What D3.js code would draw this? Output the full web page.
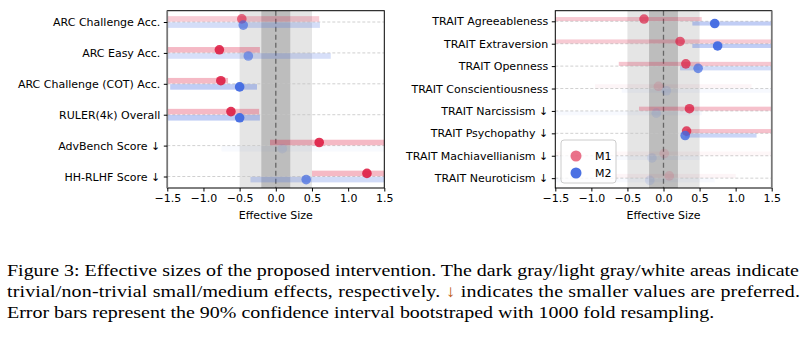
<!DOCTYPE html>
<html>
<head>
<meta charset="utf-8">
<script src="https://cdn.jsdelivr.net/npm/d3@7"></script>
<style>
  body { margin: 0; background: #fff; }
  text { font-family: "DejaVu Sans", sans-serif; }
</style>
</head>
<body>
<div id="chart"></div>
<script>
// ---- data ----
const leftCategories = ["ARC Challenge Acc.", "ARC Easy Acc.", "ARC Challenge (COT) Acc.", "RULER(4k) Overall", "AdvBench Score  \u2193", "HH-RLHF Score  \u2193"];
const leftM1 = [-0.47, -0.78, -0.76, -0.62, 0.60, 1.26];
const leftM1Low = [-1.9, -1.9, -1.9, -1.9, -0.08, 0.50];
const leftM1High = [0.60, -0.22, -0.66, -0.23, 1.9, 1.9];
const leftM1Alpha = [0.6, 0.85, 0.85, 0.85, 0.85, 0.85];
const leftM2 = [-0.45, -0.38, -0.50, -0.50, 0.09, 0.42];
const leftM2Low = [-1.9, -1.9, -1.46, -1.9, -0.75, -0.35];
const leftM2High = [0.61, 0.76, -0.26, -0.22, 1.9, 1.9];
const leftM2Alpha = [0.65, 0.6, 0.95, 0.95, 0.1, 0.7];

const rightCategories = ["TRAIT Agreeableness", "TRAIT Extraversion", "TRAIT Openness", "TRAIT Conscientiousness", "TRAIT Narcissism  \u2193", "TRAIT Psychopathy  \u2193", "TRAIT Machiavellianism  \u2193", "TRAIT Neuroticism  \u2193"];
const rightM1 = [-0.27, 0.23, 0.31, -0.07, 0.36, 0.32, 0.01, 0.08];
const rightM1Low = [-1.9, -1.9, -0.62, -0.95, -0.34, 0.32, -1.9, -0.70];
const rightM1High = [0.53, 1.9, 1.9, 1.22, 1.9, 1.9, 1.9, 1.00];
const rightM1Alpha = [0.65, 0.65, 0.7, 0.12, 0.75, 0.75, 0.1, 0.12];
const rightM2 = [0.71, 0.75, 0.48, 0.04, -0.10, 0.30, -0.16, -0.19];
const rightM2Low = [0.40, 0.40, 0.23, -0.58, -1.9, 0.30, -1.9, -1.9];
const rightM2High = [1.9, 1.9, 1.9, 1.9, 0.53, 1.29, 0.50, 0.71];
const rightM2Alpha = [0.95, 0.95, 0.7, 0.12, 0.12, 0.8, 0.12, 0.12];

const xTicks = [-1.5, -1.0, -0.5, 0.0, 0.5, 1.0, 1.5];
const seriesNames = ["M1", "M2"];
const seriesColors = ["#dc143c", "#4169e1"];

const captionLines = [
  "Figure 3: Effective sizes of the proposed intervention. The dark gray/light gray/white areas indicate",
  ["trivial/non-trivial small/medium effects, respectively. ", "\u2193", " indicates the smaller values are preferred."],
  "Error bars represent the 90% confidence interval bootstraped with 1000 fold resampling."
];

const svg = d3.select("#chart").append("svg")
  .attr("width", 807).attr("height", 338);

function drawPanel(id, box, categories, series, rowDomain, edgeSide) {
  const x = d3.scaleLinear().domain([-1.5, 1.5]).range([box.left, box.right]);
  const y = d3.scaleLinear().domain(rowDomain).range([box.top, box.bottom]);
  const g = svg.append("g");

  g.append("clipPath").attr("id", id)
    .append("rect")
    .attr("x", box.left).attr("y", box.top)
    .attr("width", box.right - box.left).attr("height", box.bottom - box.top);

  const inner = g.append("g").attr("clip-path", "url(#" + id + ")");

  // effect size bands
  inner.append("rect")
    .attr("x", x(-0.5)).attr("y", box.top)
    .attr("width", x(0.5) - x(-0.5)).attr("height", box.bottom - box.top)
    .attr("fill", "#e5e5e5");
  inner.append("rect")
    .attr("x", x(-0.2)).attr("y", box.top)
    .attr("width", x(0.2) - x(-0.2)).attr("height", box.bottom - box.top)
    .attr("fill", "#bdbdbd");

  // row gridlines
  inner.selectAll(".grid").data(categories).enter()
    .append("line")
    .attr("x1", box.left).attr("x2", box.right)
    .attr("y1", (d, i) => y(i)).attr("y2", (d, i) => y(i))
    .attr("stroke", "#c4c4c4").attr("stroke-width", 0.8)
    .attr("stroke-dasharray", "3,2");

  // zero line
  inner.append("line")
    .attr("x1", x(0)).attr("x2", x(0))
    .attr("y1", box.top).attr("y2", box.bottom)
    .attr("stroke", "#666").attr("stroke-width", 1.3)
    .attr("stroke-dasharray", "5,3");

  const barH = 0.18;
  series.forEach(function (s, k) {
    const off = k === 0 ? -0.1 : 0.1;
    inner.selectAll(".bar" + k).data(s.mean).enter()
      .append("rect")
      .attr("x", (d, i) => x(s.low[i]))
      .attr("width", (d, i) => x(s.high[i]) - x(s.low[i]))
      .attr("y", (d, i) => y(i + off - barH / 2))
      .attr("height", y(barH) - y(0))
      .attr("fill", seriesColors[k])
      .attr("fill-opacity", (d, i) => s.alpha[i] * 0.35);
  });
  series.forEach(function (s, k) {
    const off = k === 0 ? -0.1 : 0.1;
    inner.selectAll(".dot" + k).data(s.mean).enter()
      .append("circle")
      .attr("cx", d => x(d))
      .attr("cy", (d, i) => y(i + off))
      .attr("r", 4.8)
      .attr("fill", seriesColors[k])
      .attr("fill-opacity", (d, i) => s.alpha[i]);
  });

  // frame
  g.append("rect")
    .attr("x", box.left).attr("y", box.top)
    .attr("width", box.right - box.left).attr("height", box.bottom - box.top)
    .attr("fill", "none").attr("stroke", "#000").attr("stroke-width", 1);
  // the outer spine looks grey and a bit heavier in the picture
  const ex = edgeSide === "left" ? box.left : box.right;
  g.append("line")
    .attr("x1", ex).attr("x2", ex).attr("y1", box.top).attr("y2", box.bottom)
    .attr("stroke", "#777").attr("stroke-width", 1.6);

  // x axis
  const xAxis = g.append("g")
    .attr("transform", "translate(0," + box.bottom + ")")
    .call(d3.axisBottom(x).tickValues(xTicks).tickFormat(d3.format(".1f")).tickSize(3.5).tickPadding(2.5));
  xAxis.select(".domain").remove();
  xAxis.selectAll("text").attr("font-size", 11).attr("fill", "#000")
    .style("font-family", "DejaVu Sans");

  g.append("text")
    .attr("x", (box.left + box.right) / 2).attr("y", box.bottom + 31)
    .attr("text-anchor", "middle").attr("font-size", 11)
    .text("Effective Size");

  // y axis
  const yAxis = g.append("g")
    .attr("transform", "translate(" + box.left + ",0)")
    .call(d3.axisLeft(y).tickValues(d3.range(categories.length))
      .tickFormat(i => categories[i]).tickSize(3.5).tickPadding(3.5));
  yAxis.select(".domain").remove();
  yAxis.selectAll("text").attr("font-size", 11).attr("fill", "#000")
    .style("font-family", "DejaVu Sans");
  return { x: x, y: y };
}

drawPanel("clipL", { left: 167.3, right: 384.3, top: 10.7, bottom: 188 }, leftCategories,
  [{ mean: leftM1, low: leftM1Low, high: leftM1High, alpha: leftM1Alpha },
   { mean: leftM2, low: leftM2Low, high: leftM2High, alpha: leftM2Alpha }],
  [-0.366, 5.372], "left");

drawPanel("clipR", { left: 555.3, right: 771.7, top: 10.7, bottom: 188 }, rightCategories,
  [{ mean: rightM1, low: rightM1Low, high: rightM1High, alpha: rightM1Alpha },
   { mean: rightM2, low: rightM2Low, high: rightM2High, alpha: rightM2Alpha }],
  [-0.473, 7.44], "right");

// legend
const legend = svg.append("g").attr("transform", "translate(561,140)");
legend.append("rect")
  .attr("width", 55).attr("height", 43).attr("rx", 3)
  .attr("fill", "#fff").attr("fill-opacity", 0.8)
  .attr("stroke", "#ccc").attr("stroke-width", 1);
seriesNames.forEach(function (name, i) {
  legend.append("circle")
    .attr("cx", 15).attr("cy", 16 + i * 17).attr("r", 5.5)
    .attr("fill", seriesColors[i]).attr("fill-opacity", i === 0 ? 0.6 : 0.95);
  legend.append("text")
    .attr("x", 34).attr("y", 16 + i * 17).attr("dy", "0.35em")
    .attr("font-size", 11).text(name);
});

// caption (the print font is wider than Liberation Serif, so stretch it sideways)
const sx = 1.175;
const cap = svg.append("g")
  .attr("transform", "translate(7,0) scale(" + sx + ",1)")
  .style("font-family", "'Liberation Serif', 'Times New Roman', serif")
  .attr("font-size", 17);
cap.append("text").attr("x", 0).attr("y", 276)
  .attr("textLength", 792 / sx).attr("lengthAdjust", "spacing")
  .style("font-family", "'Liberation Serif', serif")
  .text(captionLines[0]);
const l2 = cap.append("text").attr("x", 0).attr("y", 297)
  .attr("textLength", 793 / sx).attr("lengthAdjust", "spacing")
  .style("font-family", "'Liberation Serif', serif");
captionLines[1].forEach(function (part, i) {
  l2.append("tspan").attr("fill", i === 1 ? "#c0601a" : "#000").text(part);
});
cap.append("text").attr("x", 0).attr("y", 318)
  .style("font-family", "'Liberation Serif', serif")
  .text(captionLines[2]);
</script>
</body>
</html>
